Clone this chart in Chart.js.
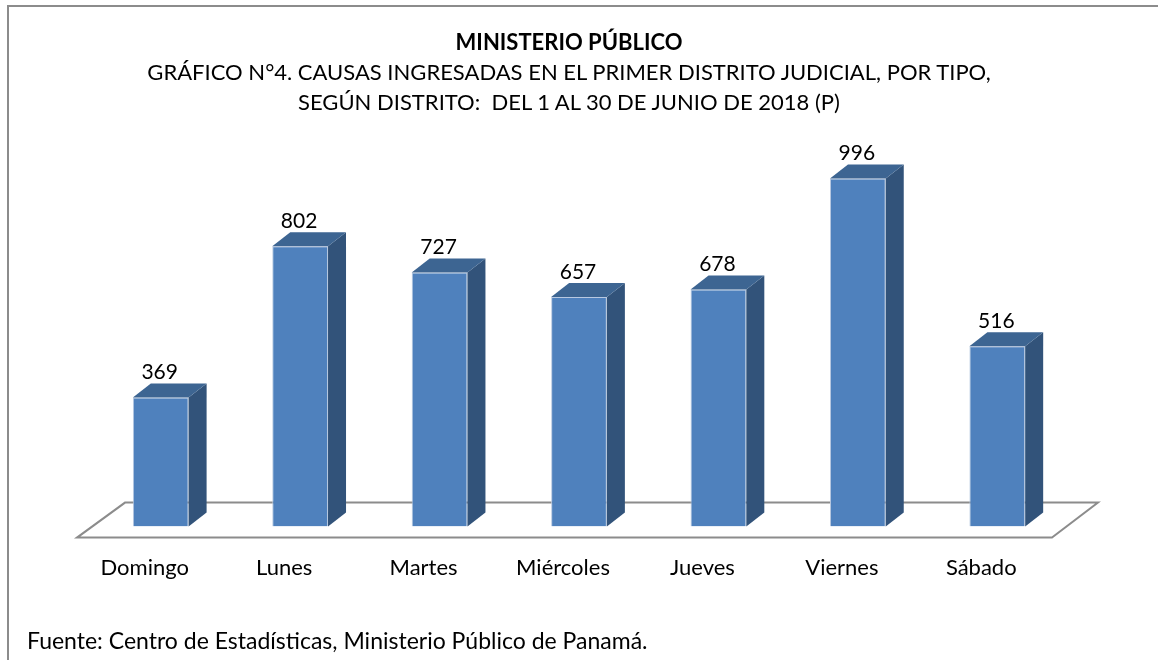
<!DOCTYPE html>
<html>
<head>
<meta charset="utf-8">
<script src="https://cdn.jsdelivr.net/npm/chart.js@4.4.1/dist/chart.umd.min.js"></script>
<style>
  html, body { margin:0; padding:0; background:#fff; overflow:hidden; }
  #wrap { position:relative; width:1158px; height:660px; }
  #frame { position:absolute; left:7px; top:5px; width:1200px; height:700px; border:2px solid #8c8c8c; box-sizing:border-box; }
  #c { position:absolute; left:0; top:0; }
  .t { position:absolute; left:0; width:1138px; text-align:center; font-family:Lato, "Open Sans", sans-serif; font-size:22px; color:#000; white-space:pre; }
  #t1 { top:28px; line-height:28px; font-weight:bold; }
  #t2 { top:57px; line-height:30px; }
  #foot { position:absolute; left:27px; top:626px; font-family:Lato, "Open Sans", sans-serif; font-size:23px; line-height:28px; color:#000; white-space:nowrap; }
</style>
</head>
<body>
<div id="wrap">
  <div id="frame"></div>
  <canvas id="c" width="1158" height="660"></canvas>
  <div class="t" id="t1"></div>
  <div class="t" id="t2"></div>
  <div id="foot">Fuente: Centro de Estadísticas, Ministerio Público de Panamá.</div>
</div>
<script>
const categories = ["Domingo", "Lunes", "Martes", "Miércoles", "Jueves", "Viernes", "Sábado"];
const causas = [369, 802, 727, 657, 678, 996, 516];
const titleText = "MINISTERIO PÚBLICO";
const subtitleLines = ["GRÁFICO N°4. CAUSAS INGRESADAS EN EL PRIMER DISTRITO JUDICIAL, POR TIPO,", "SEGÚN DISTRITO:  DEL 1 AL 30 DE JUNIO DE 2018 (P)"];

document.getElementById('t1').textContent = titleText;
document.getElementById('t2').textContent = subtitleLines.join('\n');

const FONT = 'Lato, "Open Sans", sans-serif';
const DX = 18, DY = 14;

const bar3d = {
  id: 'bar3d',
  beforeDatasetsDraw(chart) {
    const ctx = chart.ctx, a = chart.chartArea;
    ctx.save();
    ctx.beginPath();
    ctx.moveTo(a.left - 14, a.bottom + 11);
    ctx.lineTo(a.right - 15, a.bottom + 11);
    ctx.lineTo(a.right + 31, a.bottom - 24);
    ctx.lineTo(a.left + 34, a.bottom - 24);
    ctx.closePath();
    ctx.fillStyle = '#ffffff';
    ctx.fill();
    ctx.lineWidth = 2;
    ctx.strokeStyle = '#8c8c8c';
    ctx.stroke();
    ctx.restore();
  },
  afterDatasetsDraw(chart) {
    const ctx = chart.ctx;
    const meta = chart.getDatasetMeta(0);
    ctx.save();
    meta.data.forEach((b, i) => {
      const l = b.x - b.width / 2, r = b.x + b.width / 2, t = b.y, base = b.base;
      ctx.beginPath();
      ctx.moveTo(r, t); ctx.lineTo(r + DX, t - DY); ctx.lineTo(r + DX, base - DY); ctx.lineTo(r, base);
      ctx.closePath();
      ctx.fillStyle = '#32537a'; ctx.fill();
      ctx.beginPath();
      ctx.moveTo(l, t); ctx.lineTo(l + DX, t - DY); ctx.lineTo(r + DX, t - DY); ctx.lineTo(r, t);
      ctx.closePath();
      ctx.fillStyle = '#3d6592'; ctx.fill();
      ctx.fillStyle = '#000';
      ctx.font = '21px ' + FONT;
      ctx.textAlign = 'center';
      ctx.textBaseline = 'middle';
      ctx.fillText(String(causas[i]), b.x - 1, t - 25);
    });
    ctx.restore();
  }
};

new Chart(document.getElementById('c'), {
  type: 'bar',
  data: {
    labels: categories,
    datasets: [{
      data: causas,
      backgroundColor: '#4f81bd',
      borderColor: '#b8c9e1',
      borderWidth: 1,
      categoryPercentage: 1,
      barPercentage: 0.40
    }]
  },
  options: {
    responsive: false,
    animation: false,
    layout: { padding: { left: 91, right: 91, top: 177, bottom: 51 } },
    plugins: {
      legend: { display: false },
      tooltip: { enabled: false },
      title: { display: false },
      subtitle: { display: false }
    },
    scales: {
      x: {
        grid: { display: false, drawTicks: false },
        border: { display: false },
        ticks: { color: '#000', font: { family: FONT, size: 22 }, padding: 28, labelOffset: -16, maxRotation: 0 }
      },
      y: { display: false, min: 0, max: 1000 }
    }
  },
  plugins: [bar3d]
});
</script>
</body>
</html>
